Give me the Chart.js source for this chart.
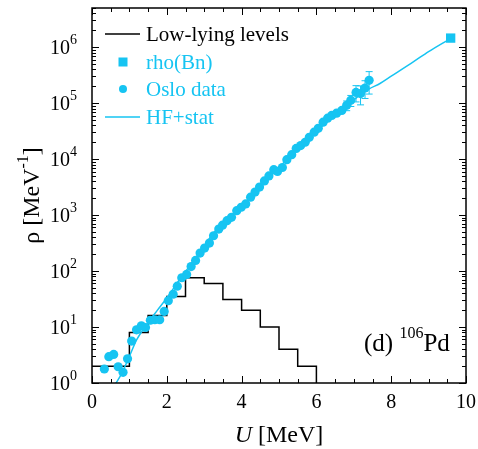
<!DOCTYPE html>
<html>
<head>
<meta charset="utf-8">
<script src="https://cdn.jsdelivr.net/npm/chart.js@4.4.1/dist/chart.umd.min.js"></script>
<style>
    html, body { margin: 0; padding: 0; background: #fff; }
</style>
</head>
<body>
<canvas id="rho" width="478" height="449"></canvas>
<script>
// low-lying discrete levels, 0.5 MeV bins (value holds from edge to next edge)
const levelEdges = [0, 1, 1.5, 2, 2.5, 3, 3.5, 4, 4.5, 5, 5.5, 6];
const levelRho = [2, 8, 16, 35, 76, 60, 31, 20, 10, 4, 2, 0.3];

// Oslo data
const osloU = [0.33, 0.45, 0.58, 0.70, 0.83, 0.95, 1.06, 1.19, 1.32, 1.43,
    1.56, 1.68, 1.81, 1.93, 2.04, 2.17, 2.28, 2.40, 2.53, 2.65,
    2.77, 2.89, 3.01, 3.14, 3.25, 3.39, 3.49, 3.61, 3.73, 3.87,
    3.99, 4.11, 4.24, 4.36, 4.48, 4.61, 4.73, 4.86, 4.96, 5.09,
    5.21, 5.34, 5.46, 5.58, 5.70, 5.81, 5.94, 6.05, 6.18, 6.30,
    6.41, 6.54, 6.68, 6.81, 6.92, 7.06, 7.18, 7.30, 7.41];
const osloRho = [1.78, 2.95, 3.24, 1.95, 1.55, 2.7, 5.6, 8.9, 10.5, 9.8,
    13.2, 13.5, 13.5, 19, 29.5, 38.5, 53.7, 75.9, 87, 120,
    155, 209, 257, 316, 427, 562, 661, 794, 912, 1200,
    1380, 1580, 2090, 2570, 3160, 4070, 5010, 6460, 6030, 7080,
    9770, 12000, 15500, 17400, 20000, 24500, 30200, 35500, 45700, 53700,
    60300, 66100, 74100, 91200, 112000, 155000, 148000, 186000, 255000];
const osloErr = [0.08, 0.1, 0.1, 0.08, 0.07, 0.1, 0.2, 0.3, 0.4, 0.4,
    0.5, 0.5, 0.5, 0.7, 1.0, 1.4, 2.0, 2.8, 3.3, 4.6,
    6, 8, 10, 12, 16, 21, 25, 30, 35, 46,
    53, 61, 80, 100, 125, 165, 210, 280, 270, 330,
    550, 800, 1200, 1500, 2000, 2700, 3500, 4300, 6000, 7500,
    9000, 11000, 13500, 18000, 25000, 50000, 55000, 65000, 110000];

// rho at the neutron separation energy
const bnU = [9.59];
const bnRho = [1450000];

// HF+stat calculation
const hfU = [0.6, 0.8, 1.0, 1.2, 1.5, 1.75, 2.0, 2.35, 2.7, 3.0,
    3.25, 3.5, 3.75, 4.0, 4.5, 5.0, 5.5, 6.0, 6.5, 7.0,
    7.4, 7.7, 8.0, 8.6, 9.0, 9.55];
const hfRho = [0.9, 1.5, 3.0, 6.0, 12, 20, 33, 72, 148, 282,
    479, 692, 1000, 1450, 3160, 7080, 15100, 31600, 61700, 115000,
    178000, 224000, 302000, 550000, 832000, 1380000];

// axes
const xTicks = [0, 2, 4, 6, 8, 10];
const yDecades = [0, 1, 2, 3, 4, 5, 6];

const CYAN = '#16c4f2';
const SERIF = '"Liberation Serif", "Times New Roman", serif';

const toPoints = (xs, ys) => xs.map((x, i) => ({x: x, y: ys[i]}));

// draw a row of text runs (with sizes / offsets), starting at x, middle at y
const drawRuns = (ctx, runs, x, y, align) => {
    let total = 0;
    runs.forEach(r => {
        ctx.font = r.font;
        r.w = ctx.measureText(r.t).width;
        total += r.w;
    });
    let cx = align === 'center' ? x - total / 2 : x;
    ctx.textAlign = 'left';
    ctx.textBaseline = 'middle';
    runs.forEach(r => {
        ctx.font = r.font;
        ctx.fillText(r.t, cx, y + (r.dy || 0));
        cx += r.w;
    });
};

const framePlugin = {
    id: 'frame',
    afterDatasetsDraw(chart) {
        const {ctx, chartArea: a, scales: {x, y}} = chart;
        ctx.save();

        // error bars on the Oslo points
        ctx.beginPath();
        ctx.rect(a.left, a.top, a.right - a.left, a.bottom - a.top);
        ctx.clip();
        ctx.strokeStyle = CYAN;
        ctx.lineWidth = 1;
        osloU.forEach((u, i) => {
            const px = x.getPixelForValue(u);
            const hi = y.getPixelForValue(osloRho[i] + osloErr[i]);
            const lo = y.getPixelForValue(Math.max(osloRho[i] - osloErr[i], 0.01));
            if (Math.abs(lo - hi) < 9) return;
            ctx.beginPath();
            ctx.moveTo(px, hi); ctx.lineTo(px, lo);
            ctx.moveTo(px - 3.5, hi); ctx.lineTo(px + 3.5, hi);
            ctx.moveTo(px - 3.5, lo); ctx.lineTo(px + 3.5, lo);
            ctx.stroke();
        });
        ctx.restore();

        // inward ticks on all four sides
        ctx.save();
        ctx.strokeStyle = '#000';
        ctx.lineWidth = 1;
        ctx.beginPath();
        for (let u = 0; u <= 10; u += 0.5) {
            const px = Math.round(x.getPixelForValue(u)) + 0.5;
            const len = u % 2 === 0 ? 7 : 4;
            ctx.moveTo(px, a.bottom); ctx.lineTo(px, a.bottom - len);
            ctx.moveTo(px, a.top); ctx.lineTo(px, a.top + len);
        }
        yDecades.forEach(n => {
            for (let k = 1; k <= 9; k++) {
                const v = k * Math.pow(10, n);
                if (v > y.max) break;
                const py = Math.round(y.getPixelForValue(v)) + 0.5;
                const len = k === 1 ? 7 : 4;
                ctx.moveTo(a.left, py); ctx.lineTo(a.left + len, py);
                ctx.moveTo(a.right, py); ctx.lineTo(a.right - len, py);
            }
        });
        ctx.stroke();
        ctx.lineWidth = 1.5;
        ctx.strokeRect(a.left, a.top, a.right - a.left, a.bottom - a.top);

        // y tick labels 10^n
        ctx.fillStyle = '#000';
        yDecades.forEach(n => {
            const py = y.getPixelForValue(Math.pow(10, n));
            ctx.font = `14px ${SERIF}`;
            const sw = ctx.measureText(String(n)).width;
            ctx.font = `20px ${SERIF}`;
            const bw = ctx.measureText('10').width;
            drawRuns(ctx, [
                {t: '10', font: `20px ${SERIF}`},
                {t: String(n), font: `14px ${SERIF}`, dy: -9}
            ], 77 - sw - bw, py + 2);
        });

        // axis titles
        drawRuns(ctx, [
            {t: 'U', font: `italic 24px ${SERIF}`},
            {t: ' [MeV]', font: `24px ${SERIF}`}
        ], (a.left + a.right) / 2, 436, 'center');

        ctx.save();
        ctx.translate(33, (a.top + a.bottom) / 2);
        ctx.rotate(-Math.PI / 2);
        drawRuns(ctx, [
            {t: 'ρ [MeV', font: `24px ${SERIF}`},
            {t: '-1', font: `16px ${SERIF}`, dy: -9},
            {t: ']', font: `24px ${SERIF}`}
        ], 0, 0, 'center');
        ctx.restore();

        // legend
        const rows = [
            {t: 'Low-lying levels', color: '#000', kind: 'line', y: 34},
            {t: 'rho(Bn)', color: CYAN, kind: 'square', y: 62},
            {t: 'Oslo data', color: CYAN, kind: 'dot', y: 89},
            {t: 'HF+stat', color: CYAN, kind: 'line', y: 117}
        ];
        rows.forEach(r => {
            ctx.strokeStyle = r.color;
            ctx.fillStyle = r.color;
            if (r.kind === 'line') {
                ctx.lineWidth = 1.5;
                ctx.beginPath();
                ctx.moveTo(105, r.y); ctx.lineTo(140, r.y);
                ctx.stroke();
            } else if (r.kind === 'square') {
                ctx.fillRect(118.5, r.y - 4.5, 9, 9);
            } else {
                ctx.beginPath();
                ctx.arc(123, r.y, 4, 0, Math.PI * 2);
                ctx.fill();
            }
            drawRuns(ctx, [{t: r.t, font: `21px ${SERIF}`}], 146, r.y + 1);
        });

        // panel label
        ctx.fillStyle = '#000';
        drawRuns(ctx, [
            {t: '(d) ', font: `25px ${SERIF}`},
            {t: '106', font: `16px ${SERIF}`, dy: -10},
            {t: 'Pd', font: `25px ${SERIF}`}
        ], 364, 344);

        ctx.restore();
    }
};

const chart = new Chart(document.getElementById('rho'), {
    type: 'line',
    data: {
        datasets: [
            {
                label: 'Low-lying levels',
                data: toPoints(levelEdges, levelRho),
                borderColor: '#000',
                borderWidth: 1.5,
                stepped: 'before',
                pointRadius: 0,
                fill: false,
                order: 3
            },
            {
                label: 'HF+stat',
                data: toPoints(hfU, hfRho),
                borderColor: CYAN,
                borderWidth: 1.5,
                cubicInterpolationMode: 'monotone',
                pointRadius: 0,
                fill: false,
                order: 2
            },
            {
                label: 'Oslo data',
                data: toPoints(osloU, osloRho),
                showLine: false,
                pointStyle: 'circle',
                pointRadius: 4.6,
                pointBorderWidth: 0,
                pointBackgroundColor: CYAN,
                order: 1
            },
            {
                label: 'rho(Bn)',
                data: toPoints(bnU, bnRho),
                showLine: false,
                pointStyle: 'rect',
                pointRadius: 6.6,
                pointBorderWidth: 0,
                pointBackgroundColor: CYAN,
                order: 0
            }
        ]
    },
    options: {
        responsive: false,
        animation: false,
        layout: {padding: {left: 0, right: 12, top: 8, bottom: 0}},
        plugins: {
            legend: {display: false},
            tooltip: {enabled: false}
        },
        scales: {
            x: {
                type: 'linear',
                min: 0,
                max: 10,
                afterBuildTicks: s => { s.ticks = xTicks.map(v => ({value: v})) },
                ticks: {
                    color: '#000',
                    font: {family: SERIF, size: 20},
                    padding: 8,
                    maxRotation: 0,
                    autoSkip: false
                },
                grid: {display: false, drawTicks: false},
                border: {display: false},
                afterFit: s => {
                    s.height = 66;
                    s.paddingLeft = 0;
                    s.paddingRight = 0;
                }
            },
            y: {
                type: 'logarithmic',
                min: 1,
                max: 5e6,
                ticks: {display: false},
                grid: {display: false, drawTicks: false},
                border: {display: false},
                afterFit: s => { s.width = 92 }
            }
        }
    },
    plugins: [framePlugin]
});
</script>
</body>
</html>
